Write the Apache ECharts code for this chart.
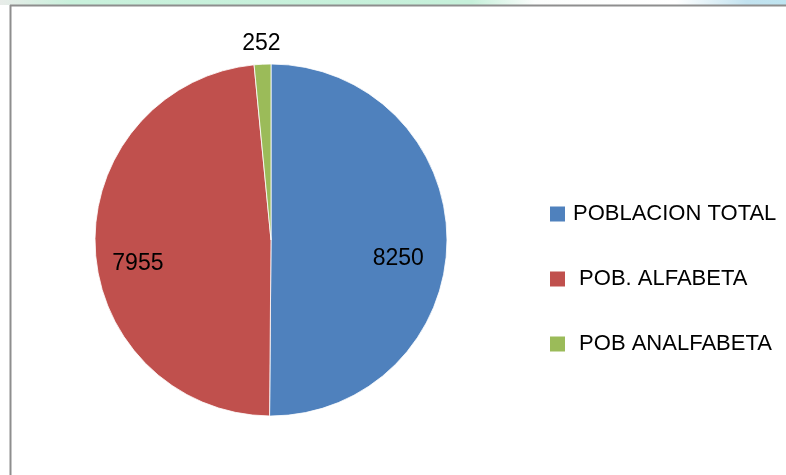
<!DOCTYPE html>
<html>
<head>
<meta charset="utf-8">
<script src="https://cdn.jsdelivr.net/npm/echarts@6/dist/echarts.min.js"></script>
<style>
  html, body { margin: 0; padding: 0; background: #fff; }
  #chart { width: 786px; height: 475px; }
</style>
</head>
<body>
<div id="chart"></div>
<script>
var categories = ['POBLACION TOTAL', ' POB. ALFABETA', ' POB ANALFABETA'];
var values = [8250, 7955, 252];
var colors = ['#4F81BD', '#C0504D', '#9BBB59'];

var pieCenter = [271, 240];
var pieRadius = 176;
var fontFam = '"Liberation Sans", Arial, sans-serif';

var pieData = categories.map(function (name, i) {
	return { name: name, value: values[i], itemStyle: { color: colors[i] } };
});

// label layer: same slices, transparent, labels near the outer edge
var labelData = categories.map(function (name, i) {
	var item = { name: name, value: values[i] };
	if (i === 2) {
		item.label = { position: 'outside', distanceToLabelLine: -19, offset: [0, 0] };
		item.labelLine = { show: false, length: 21, length2: 0 };
	}
	return item;
});

var chart = echarts.init(document.getElementById('chart'));
var option = {
	animation: false,
	backgroundColor: '#fff',
	color: colors,
	graphic: [
		{
			type: 'rect', silent: true,
			shape: { x: 0, y: 0, width: 786, height: 5 },
			style: {
				fill: new echarts.graphic.LinearGradient(0, 0, 1, 0, [
					{ offset: 0, color: '#e8ece9' },
					{ offset: 0.09, color: '#c9f1dc' },
					{ offset: 0.6, color: '#c6f0da' },
					{ offset: 0.68, color: '#fbfdfc' },
					{ offset: 0.86, color: '#ffffff' },
					{ offset: 0.95, color: '#c2e2ef' },
					{ offset: 1, color: '#bfe4f0' }
				])
			}
		},
		{
			type: 'line', silent: true,
			shape: { x1: 10, y1: 5.5, x2: 786, y2: 5.5 },
			style: { stroke: '#8e8e8e', lineWidth: 2 }
		},
		{
			type: 'line', silent: true,
			shape: { x1: 10.5, y1: 5, x2: 10.5, y2: 475 },
			style: { stroke: '#8e8e8e', lineWidth: 2 }
		}
	],
	legend: {
		orient: 'vertical',
		left: 550,
		top: 203,
		padding: 0,
		itemWidth: 15,
		itemHeight: 15,
		itemGap: 43,
		icon: 'rect',
		itemStyle: { borderWidth: 0 },
		data: categories.map(function (name, i) {
			return { name: name, itemStyle: { color: colors[i], borderWidth: 0 } };
		}),
		textStyle: {
			color: '#000',
			fontSize: 22,
			lineHeight: 22,
			fontFamily: fontFam,
			padding: [0, 0, 0, 3]
		}
	},
	series: [
		{
			type: 'pie',
			center: pieCenter,
			radius: [0, pieRadius],
			startAngle: 90,
			clockwise: true,
			silent: true,
			label: { show: false },
			labelLine: { show: false },
			itemStyle: { borderColor: '#fff', borderWidth: 0.8 },
			data: pieData
		},
		{
			type: 'pie',
			center: pieCenter,
			radius: [78.5, pieRadius],
			startAngle: 90,
			clockwise: true,
			silent: true,
			avoidLabelOverlap: false,
			legendHoverLink: false,
			itemStyle: { color: 'rgba(0,0,0,0)' },
			label: {
				show: true,
				position: 'inside',
				formatter: '{c}',
				color: '#000',
				fontSize: 23,
				fontFamily: fontFam,
				offset: [-3, 18]
			},
			labelLine: { show: false },
			data: labelData
		}
	]
};
chart.setOption(option);
</script>
</body>
</html>
